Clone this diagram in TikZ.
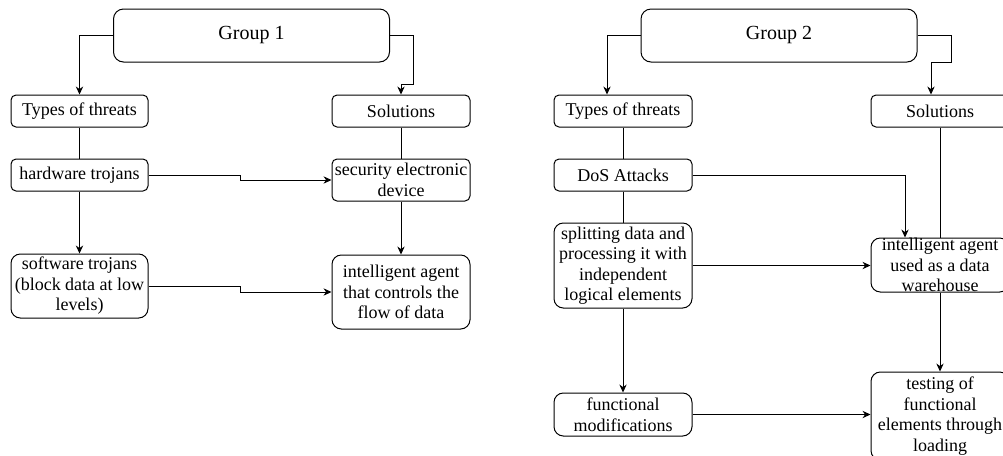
\documentclass[tikz,border=0pt]{standalone}
\usepackage{fontspec}
\setmainfont{Liberation Serif}
\usetikzlibrary{arrows.meta}
\tikzset{
  box/.style={draw, line width=0.75pt, rounded corners=3.75pt, inner sep=0pt,
    align=center, font=\fontsize{13.5}{15.4}\selectfont,
    minimum width={137*0.75pt}, minimum height={32*0.75pt}},
  tallbox/.style={box, rounded corners=7pt},
  groupbox/.style={box, rounded corners=7.5pt, font=\fontsize{15}{18}\selectfont,
    minimum width={276*0.75pt}, minimum height={53*0.75pt}},
  link/.style={line width=0.75pt},
  arr/.style={link, -{Stealth[length=6pt,width=5.5pt]}}
}
\begin{document}
\begin{tikzpicture}[x=0.75pt, y=-0.75pt]
\clip (0,0) rectangle (1003,455);
\fill[white] (0,0) rectangle (1003,455);

% ---- Group 1 ----
\node[groupbox] (g1) at (251.5,35.5) {Group 1};
\node[box] (t1) at (79.5,111) {Types of threats};
\node[box, minimum width={138*0.75pt}] (s1) at (401,111) {Solutions};
\node[box] (h1) at (79.5,175) {hardware trojans};
\node[box, minimum width={138*0.75pt}, minimum height={42*0.75pt}] (sec1) at (401,180)
  {security electronic\\device};
\node[tallbox, minimum height={64*0.75pt}] (sw1) at (79.5,286)
  {software trojans\\(block data at low\\levels)};
\node[tallbox, minimum width={138*0.75pt}, minimum height={74*0.75pt}] (ia1) at (401,292)
  {intelligent agent\\that controls the\\flow of data};

\draw[arr] (g1.west) -| (t1.north);
\draw[arr] (g1.east) -- ++(23,0) -- ++(0,48.5) -| (s1.north);
\draw[link] (t1.south) -- (h1.north);
\draw[link] (s1.south) -- (sec1.north);
\draw[arr] (h1.east) -- ++(92,0) |- (sec1.west);
\draw[arr] (h1.south) -- (sw1.north);
\draw[arr] (sec1.south) -- (ia1.north);
\draw[arr] (sw1.east) -- ++(92,0) |- (ia1.west);

% ---- Group 2 ----
\node[groupbox] (g2) at (779,35.5) {Group 2};
\node[box, minimum width={138*0.75pt}] (t2) at (623,111) {Types of threats};
\node[box, minimum width={138*0.75pt}] (s2) at (940,111) {Solutions};
\node[box, minimum width={138*0.75pt}] (dos) at (623,175) {DoS Attacks};
\node[tallbox, minimum width={138*0.75pt}, minimum height={85*0.75pt}] (split) at (623,265.5)
  {splitting data and\\processing it with\\independent\\logical elements};
\node[tallbox, minimum width={138*0.75pt}, minimum height={54*0.75pt},
  label={[align=center, font=\fontsize{13.5}{15.4}\selectfont, inner sep=0pt]center:intelligent agent\\used as a data\\warehouse}]
  (ia2) at (940,265) {};
\node[tallbox, minimum width={138*0.75pt}, minimum height={43*0.75pt}] (fm) at (623,414.5)
  {functional\\modifications};
\node[tallbox, minimum width={138*0.75pt}, minimum height={88*0.75pt}] (test) at (940,416)
  {testing of\\functional\\elements through\\loading};

\draw[arr] (g2.west) -| ([xshift=-12pt]t2.north);
\draw[arr] (g2.east) -- ++(34,0) -- ++(0,26.5) -| ([xshift=-6.75pt]s2.north);
\draw[link] (t2.south) -- (dos.north);
\draw[arr] (dos.east) -| ([xshift=-26.25pt]ia2.north);
\draw[link] (s2.south) -- (ia2.north);
\draw[link] (dos.south) -- (split.north);
\draw[arr] (split.east) -- (split.east -| ia2.west);
\draw[arr] (split.south) -- (fm.north);
\draw[arr] (ia2.south) -- (test.north);
\draw[arr] (fm.east) -- (fm.east -| test.west);
\end{tikzpicture}
\end{document}
